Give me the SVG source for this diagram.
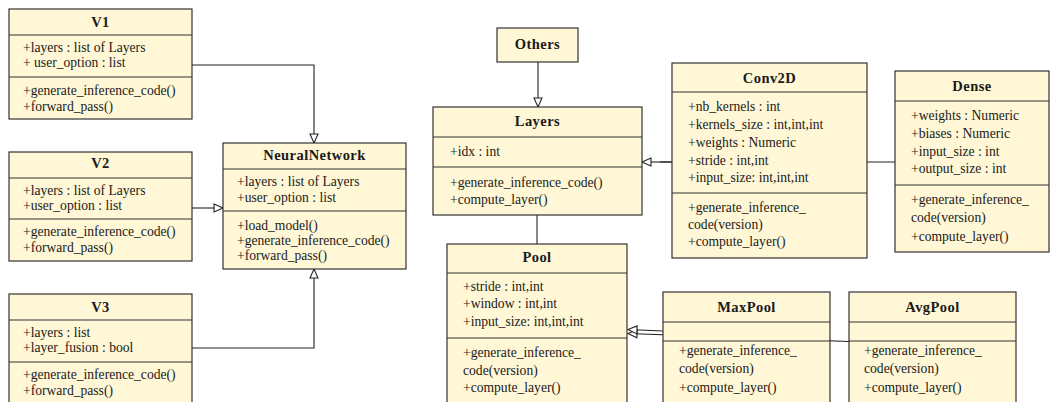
<svg xmlns="http://www.w3.org/2000/svg" width="1051" height="402" viewBox="0 0 1051 402">
<defs>
<style>
.box{fill:#fff7d6;stroke:#333;stroke-width:1.2}
.div{stroke:#333;stroke-width:1.2}
.t{font-size:13.6px;fill:#1a1a1a}
.h{font-size:14.5px;font-weight:bold;fill:#1a1a1a;text-anchor:middle;letter-spacing:0.45px}
.c{fill:none;stroke:#222;stroke-width:1.1}
</style>
<marker id="tri" markerUnits="userSpaceOnUse" markerWidth="12" markerHeight="12" refX="10" refY="5" orient="auto">
<path d="M1,1 L10,5 L1,9 Z" fill="#fff" stroke="#222" stroke-width="1.1"/>
</marker>
</defs>
<rect width="1051" height="402" fill="#fff"/>
<g id="connectors">
<polyline class="c" points="192,65 314,65 314,143" marker-end="url(#tri)"/>
<line class="c" x1="192" y1="208" x2="223" y2="208" marker-end="url(#tri)"/>
<polyline class="c" points="192,348 314,348 314,269" marker-end="url(#tri)"/>
<line class="c" x1="538" y1="62" x2="538" y2="107" marker-end="url(#tri)"/>
<line class="c" x1="895" y1="162" x2="660" y2="162"/>
<line class="c" x1="672" y1="162" x2="642" y2="162" marker-end="url(#tri)"/>
<line class="c" x1="537" y1="215" x2="537" y2="244"/>
<line class="c" x1="849" y1="341.5" x2="628" y2="333.5" marker-end="url(#tri)"/>
<line class="c" x1="663" y1="331" x2="628" y2="329.5" marker-end="url(#tri)"/>
</g>
<g font-family="'Liberation Serif', 'Times New Roman', 'DejaVu Serif', serif">
<g id="V1">
<rect class="box" x="9" y="9" width="183" height="110"/>
<line class="div" x1="9" y1="35" x2="192" y2="35"/>
<line class="div" x1="9" y1="77" x2="192" y2="77"/>
<text class="h" x="100.5" y="27">V1</text>
<text class="t" x="23" y="52">+layers : list of Layers</text>
<text class="t" x="23" y="67">+ user_option : list</text>
<text class="t" x="23" y="95">+generate_inference_code()</text>
<text class="t" x="23" y="111">+forward_pass()</text>
</g>
<g id="V2">
<rect class="box" x="9" y="152" width="183" height="109"/>
<line class="div" x1="9" y1="178" x2="192" y2="178"/>
<line class="div" x1="9" y1="219" x2="192" y2="219"/>
<text class="h" x="100.5" y="168">V2</text>
<text class="t" x="23" y="195">+layers : list of Layers</text>
<text class="t" x="23" y="210">+user_option : list</text>
<text class="t" x="23" y="236">+generate_inference_code()</text>
<text class="t" x="23" y="252">+forward_pass()</text>
</g>
<g id="V3">
<rect class="box" x="9" y="294" width="183" height="120"/>
<line class="div" x1="9" y1="320" x2="192" y2="320"/>
<line class="div" x1="9" y1="362" x2="192" y2="362"/>
<text class="h" x="100.5" y="312">V3</text>
<text class="t" x="23" y="337">+layers : list</text>
<text class="t" x="23" y="352">+layer_fusion : bool</text>
<text class="t" x="23" y="379">+generate_inference_code()</text>
<text class="t" x="23" y="395">+forward_pass()</text>
</g>
<g id="NeuralNetwork">
<rect class="box" x="223" y="143" width="183" height="126"/>
<line class="div" x1="223" y1="169" x2="406" y2="169"/>
<line class="div" x1="223" y1="211" x2="406" y2="211"/>
<text class="h" x="314.5" y="160">NeuralNetwork</text>
<text class="t" x="237" y="186">+layers : list of Layers</text>
<text class="t" x="237" y="202">+user_option : list</text>
<text class="t" x="237" y="230">+load_model()</text>
<text class="t" x="237" y="245">+generate_inference_code()</text>
<text class="t" x="237" y="260">+forward_pass()</text>
</g>
<g id="Others">
<rect class="box" x="497" y="28" width="81" height="34"/>
<text class="h" x="537.5" y="49">Others</text>
</g>
<g id="Layers">
<rect class="box" x="433" y="107" width="209" height="108"/>
<line class="div" x1="433" y1="137" x2="642" y2="137"/>
<line class="div" x1="433" y1="167" x2="642" y2="167"/>
<text class="h" x="537.5" y="126">Layers</text>
<text class="t" x="450" y="156">+idx : int</text>
<text class="t" x="450" y="187">+generate_inference_code()</text>
<text class="t" x="450" y="204">+compute_layer()</text>
</g>
<g id="Conv2D">
<rect class="box" x="672" y="63" width="195" height="195"/>
<line class="div" x1="672" y1="92" x2="867" y2="92"/>
<line class="div" x1="672" y1="193" x2="867" y2="193"/>
<text class="h" x="769.5" y="83">Conv2D</text>
<text class="t" x="688" y="111">+nb_kernels : int</text>
<text class="t" x="688" y="129">+kernels_size : int,int,int</text>
<text class="t" x="688" y="147">+weights : Numeric</text>
<text class="t" x="688" y="165">+stride : int,int</text>
<text class="t" x="688" y="182">+input_size: int,int,int</text>
<text class="t" x="688" y="212">+generate_inference_</text>
<text class="t" x="688" y="229">code(version)</text>
<text class="t" x="688" y="246">+compute_layer()</text>
</g>
<g id="Dense">
<rect class="box" x="895" y="71" width="154" height="181"/>
<line class="div" x1="895" y1="101" x2="1049" y2="101"/>
<line class="div" x1="895" y1="185" x2="1049" y2="185"/>
<text class="h" x="972" y="91">Dense</text>
<text class="t" x="911" y="120">+weights : Numeric</text>
<text class="t" x="911" y="138">+biases : Numeric</text>
<text class="t" x="911" y="156">+input_size : int</text>
<text class="t" x="911" y="173">+output_size : int</text>
<text class="t" x="911" y="204">+generate_inference_</text>
<text class="t" x="911" y="222">code(version)</text>
<text class="t" x="911" y="241">+compute_layer()</text>
</g>
<g id="Pool">
<rect class="box" x="447" y="244" width="180" height="170"/>
<line class="div" x1="447" y1="273" x2="627" y2="273"/>
<line class="div" x1="447" y1="338" x2="627" y2="338"/>
<text class="h" x="537" y="262">Pool</text>
<text class="t" x="463" y="291">+stride : int,int</text>
<text class="t" x="463" y="308">+window : int,int</text>
<text class="t" x="463" y="326">+input_size: int,int,int</text>
<text class="t" x="463" y="357">+generate_inference_</text>
<text class="t" x="463" y="375">code(version)</text>
<text class="t" x="463" y="392">+compute_layer()</text>
</g>
<g id="MaxPool">
<rect class="box" x="663" y="292" width="167" height="122"/>
<line class="div" x1="663" y1="322" x2="830" y2="322"/>
<line class="div" x1="663" y1="341" x2="830" y2="341"/>
<text class="h" x="746.5" y="312">MaxPool</text>
<text class="t" x="679" y="355">+generate_inference_</text>
<text class="t" x="679" y="373">code(version)</text>
<text class="t" x="679" y="392">+compute_layer()</text>
</g>
<g id="AvgPool">
<rect class="box" x="849" y="292" width="167" height="122"/>
<line class="div" x1="849" y1="322" x2="1016" y2="322"/>
<line class="div" x1="849" y1="341" x2="1016" y2="341"/>
<text class="h" x="932.5" y="312">AvgPool</text>
<text class="t" x="864" y="355">+generate_inference_</text>
<text class="t" x="864" y="373">code(version)</text>
<text class="t" x="864" y="392">+compute_layer()</text>
</g>
</g>
</svg>
